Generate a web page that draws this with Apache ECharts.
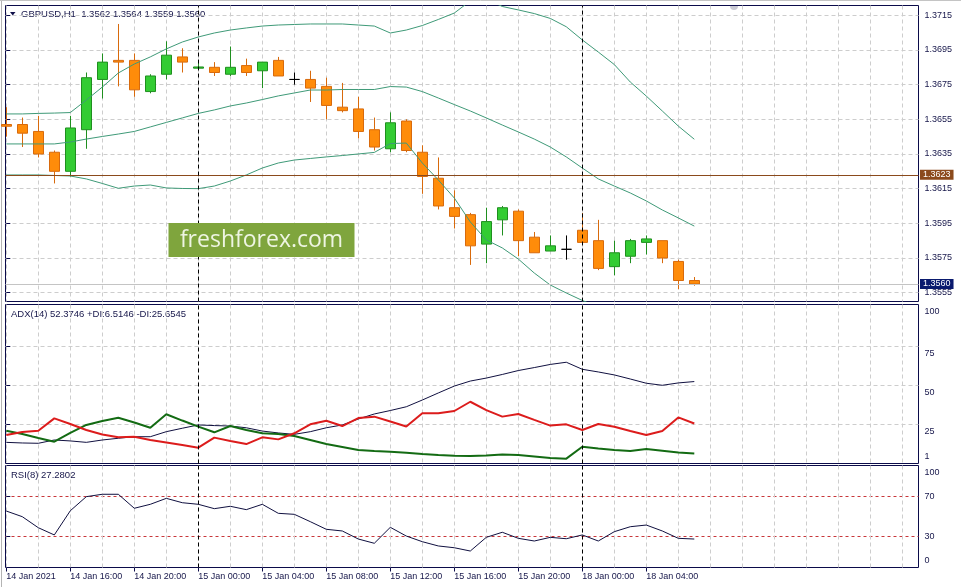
<!DOCTYPE html>
<html><head><meta charset="utf-8">
<script src="https://cdn.jsdelivr.net/npm/echarts@6/dist/echarts.min.js"></script>
<style>html,body{margin:0;padding:0;background:#fff}#c{width:961px;height:587px}</style>
</head><body><div id="c"></div>
<script>
// ---------------- data ----------------
const symbolName = 'GBPUSD', timeframe = 'H1';
const opens  = [1.3652,1.3652,1.3648,1.3636,1.3625,1.3649,1.3678,1.3689,1.3689,1.3671,1.3681,1.3691,1.36845,1.3685,1.3681,1.3686,1.3683,1.3689,1.3678,1.3678,1.3674,1.3662,1.3661,1.3649,1.3638,1.3654,1.3636,1.3621,1.3604,1.3600,1.3583,1.3597,1.3602,1.3587,1.3579,1.3580,1.3591,1.3585,1.3570,1.3576,1.3584,1.3585,1.3573,1.3562];
const highs  = [1.3662,1.3656,1.3657,1.3637,1.3657,1.3682,1.3693,1.3710,1.3693,1.3681,1.3700,1.3696,1.3688,1.3688,1.3697,1.3690,1.3688,1.3691,1.3682,1.3683,1.3679,1.3676,1.3668,1.3656,1.3659,1.3655,1.3640,1.3633,1.3614,1.3601,1.3604,1.3605,1.3603,1.3590,1.3588,1.3588,1.3601,1.3597,1.3585,1.3586,1.3588,1.3585,1.3574,1.3564];
const lows   = [1.3645,1.3639,1.3633,1.3618,1.3622,1.3638,1.3667,1.3674,1.3668,1.3670,1.3678,1.3682,1.36845,1.3680,1.3680,1.3680,1.3673,1.3680,1.3675,1.3665,1.3655,1.3659,1.3644,1.3637,1.3636,1.3636,1.3612,1.3603,1.3592,1.3571,1.3572,1.3588,1.3576,1.3578,1.3579,1.3574,1.3584,1.3568,1.3565,1.3572,1.3577,1.3572,1.3557,1.3559];
const closes = [1.3651,1.3647,1.3635,1.3625,1.3650,1.3679,1.3688,1.3688,1.3672,1.3680,1.3692,1.3688,1.36852,1.3682,1.3685,1.3682,1.3688,1.3680,1.3678,1.3673,1.3663,1.3660,1.3648,1.3639,1.3653,1.3637,1.3622,1.3605,1.3599,1.3582,1.3596,1.3604,1.3585,1.3578,1.3582,1.3580,1.3584,1.3569,1.3578,1.3585,1.3586,1.3575,1.3562,1.3560];

const bbUpper  = [1.36581,1.36581,1.36584,1.36586,1.36589,1.36661,1.36736,1.36817,1.36869,1.3691,1.36956,1.36996,1.37025,1.37048,1.37065,1.37077,1.37088,1.37094,1.37097,1.371,1.371,1.371,1.37094,1.37088,1.37048,1.37065,1.37091,1.37126,1.37163,1.37233,1.37244,1.37201,1.37181,1.3716,1.37132,1.37084,1.37008,1.36938,1.36866,1.36765,1.36684,1.36598,1.36511,1.36435];
const bbMiddle = [1.36408,1.36408,1.36408,1.36408,1.36419,1.36436,1.36451,1.36465,1.3648,1.36506,1.36532,1.36558,1.36584,1.36604,1.36627,1.36644,1.36664,1.36685,1.36702,1.36719,1.36719,1.36722,1.36722,1.36722,1.36739,1.36736,1.3671,1.36673,1.36635,1.36598,1.36558,1.36517,1.36477,1.36436,1.3639,1.36333,1.36269,1.36206,1.36165,1.36125,1.36079,1.36027,1.35981,1.35934];
const bbLower  = [1.36229,1.36229,1.36229,1.36226,1.36223,1.36206,1.3618,1.36152,1.36165,1.36171,1.36154,1.36151,1.3615,1.36165,1.36194,1.36229,1.36269,1.36298,1.36315,1.36324,1.36333,1.36341,1.3635,1.36359,1.3641,1.36413,1.36298,1.362,1.36096,1.35958,1.35854,1.35808,1.35744,1.35663,1.35594,1.35548,1.35505,1.35467,1.35456,1.35467,1.35461,1.3545,1.35444,1.35436];

const adxMain = [13.6,13.2,13.0,15.1,14.5,13.6,15.1,16.2,17.2,17.2,20.4,22.6,24.7,24.3,24.0,22.9,20.8,19.6,18.7,20.4,22.9,24.7,28.5,31.7,33.9,36.3,40.6,45.1,49.5,52.7,54.6,56.9,59.4,61.3,63.3,64.7,60.2,58.5,56.6,54.0,51.3,50.0,51.5,52.3746];
const plusDI  = [21.0,18.9,16.4,14.0,19.6,24.7,27.2,29.3,26.3,22.9,31.5,27.5,23.6,20.0,24.0,21.5,19.4,18.9,17.6,15.1,12.5,10.6,8.7,8.1,7.6,7.0,6.2,5.5,5.1,4.9,5.2,5.8,5.5,4.6,3.6,3.2,10.8,9.7,8.7,8.1,9.4,8.3,7.1,6.5146];
const minusDI = [18.3,20.2,21.0,28.9,25.3,21.5,18.6,16.8,17.2,15.1,13.5,11.9,10.2,16.6,14.5,12.5,16.8,15.5,19.4,25.1,27.4,24.0,29.1,30.0,26.9,23.7,32.1,32.1,33.6,39.5,34.2,30.0,31.7,27.9,24.3,25.1,21.5,25.3,23.6,20.8,18.3,20.8,29.5,25.6545];
const rsi = [55.5,49.8,38.7,31.4,55.8,70.0,72.4,72.4,58.3,62.3,68.3,63.9,62.3,57.9,60.3,56.9,62.3,53.2,52.2,44.8,37.1,35.4,27.3,23.0,39.1,30.3,24.6,20.3,18.5,15.2,29.0,34.1,28.0,25.3,29.0,27.6,31.4,25.3,34.7,39.7,41.4,35.4,28.0,27.2802];

const priceTicks = [1.3555,1.3575,1.3595,1.3615,1.3635,1.3655,1.3675,1.3695,1.3715];
const hLineLevel = 1.3623;
const xTickIdx = [0,4,8,12,16,20,24,28,32,36,40];
const xTickLabels = ['14 Jan 2021','14 Jan 16:00','14 Jan 20:00','15 Jan 00:00','15 Jan 04:00','15 Jan 08:00','15 Jan 12:00','15 Jan 16:00','15 Jan 20:00','18 Jan 00:00','18 Jan 04:00'];
const daySeparators = [12,36];
const adxTicks = [25,50,75];
const adxLabels = [1,25,50,75,100];
const rsiLevels = [30,70];
const rsiLabels = [0,30,70,100];

// ---------------- layout ----------------
const X_MIN = -0.05, X_MAX = 57.0125;
const vGrid = []; for (let i = 0; i <= X_MAX; i += 2) vGrid.push(i);
const FONT = 'Liberation Sans';
const NAVY = '#0b0b4a';
const TXT = '#16164a';
const GRIDC = '#cdcdcd';

const last = opens.length - 1;
const bid = closes[last];
const candleData = opens.map((o, i) => [i, o, closes[i], lows[i], highs[i]]);
const toXY = arr => arr.map((v, i) => [i, v]);

function sepItems() {
  return daySeparators.map(v => ({xAxis: v, lineStyle: {color: '#000', type: [4, 3], width: 1}, label: {show: false}}));
}
function sepLine() {
  return {silent: true, symbol: ['none', 'none'], animation: false, precision: 6, label: {show: false}, data: sepItems()};
}
function priceTag(v, bg) {
  return {show: true, position: 'end', distance: 1.5, formatter: v.toFixed(4),
    color: '#fff', backgroundColor: bg, padding: [1, 3, 0, 3], fontFamily: FONT, fontSize: 9};
}
function gridX(gi, extra) {
  return Object.assign({
    type: 'value', gridIndex: gi, min: X_MIN, max: X_MAX,
    axisLine: {show: false}, axisLabel: {show: false},
    axisTick: {show: false, customValues: vGrid},
    splitLine: {show: true, lineStyle: {color: GRIDC, type: [4, 3], width: 1}}
  }, extra || {});
}

const chart = echarts.init(document.getElementById('c'), null, {renderer: 'canvas'});
chart.setOption({
  animation: false,
  backgroundColor: '#ffffff',
  textStyle: {fontFamily: FONT},
  grid: [
    {left: 5.5, width: 913, top: 5.5, height: 296, show: true, borderColor: NAVY, borderWidth: 1},
    {left: 5.5, width: 913, top: 304.5, height: 159, show: true, borderColor: NAVY, borderWidth: 1},
    {left: 5.5, width: 913, top: 465.5, height: 102, show: true, borderColor: NAVY, borderWidth: 1}
  ],
  xAxis: [
    gridX(0),
    gridX(1),
    gridX(2, {position: 'top'}),
    {
      type: 'value', gridIndex: 2, min: X_MIN, max: X_MAX, position: 'bottom',
      axisLine: {show: false},
      axisTick: {show: true, customValues: xTickIdx, length: 4, lineStyle: {color: NAVY}},
      axisLabel: {
        show: true, customValues: xTickIdx, align: 'left', margin: 5,
        fontFamily: FONT, fontSize: 9, color: TXT,
        formatter: v => xTickLabels[xTickIdx.indexOf(Math.round(v))] || ''
      },
      splitLine: {show: false}
    }
  ],
  yAxis: [
    {
      type: 'value', gridIndex: 0, position: 'right', min: 1.354989, max: 1.372066,
      axisLine: {show: false},
      axisTick: {show: true, customValues: priceTicks, length: 4, lineStyle: {color: NAVY}},
      axisLabel: {show: true, customValues: priceTicks, margin: 6, fontFamily: FONT, fontSize: 9, color: TXT,
        formatter: v => v.toFixed(4)},
      splitLine: {show: true, lineStyle: {color: GRIDC, type: [4, 3], width: 1}}
    },
    {
      type: 'value', gridIndex: 1, position: 'right', min: 0.107, max: 101.53,
      axisLine: {show: false},
      axisTick: {show: true, customValues: adxTicks, length: 4, lineStyle: {color: NAVY}},
      axisLabel: {show: true, customValues: adxLabels, margin: 6, fontFamily: FONT, fontSize: 9, color: TXT,
        formatter: v => v === adxLabels[0] ? '{b|' + v + '}' : (v === 100 ? '{m|' + v + '}' : '{t|' + v + '}'),
        rich: {
          t: {padding: [14, 0, 0, 0], fontFamily: FONT, fontSize: 9, color: TXT},
          m: {padding: [10, 0, 0, 0], fontFamily: FONT, fontSize: 9, color: TXT},
          b: {padding: [0, 0, 11, 0], fontFamily: FONT, fontSize: 9, color: TXT}
        }},
      splitLine: {show: true, lineStyle: {color: GRIDC, type: [4, 3], width: 1}}
    },
    {
      type: 'value', gridIndex: 2, position: 'right', min: -1.41, max: 101.41,
      axisLine: {show: false},
      axisTick: {show: true, customValues: rsiLevels, length: 4, lineStyle: {color: NAVY}},
      axisLabel: {show: true, customValues: rsiLabels, margin: 6, fontFamily: FONT, fontSize: 9, color: TXT,
        formatter: v => v === 0 ? '{b|0}' : (v === 100 ? '{m|100}' : String(v)),
        rich: {
          m: {padding: [11, 0, 0, 0], fontFamily: FONT, fontSize: 9, color: TXT},
          b: {padding: [0, 0, 11, 0], fontFamily: FONT, fontSize: 9, color: TXT}
        }},
      splitLine: {show: true, lineStyle: {color: '#c8373b', type: [3, 3], width: 1}}
    }
  ],
  series: [
    {
      type: 'candlestick', xAxisIndex: 0, yAxisIndex: 0, barWidth: 10,
      data: candleData,
      itemStyle: {
        color: '#33cc33', borderColor: '#1f8f1f',
        color0: '#ff8c0a', borderColor0: '#d86a0c',
        borderColorDoji: '#000000', borderWidth: 1
      }
    },
    {type: 'line', xAxisIndex: 0, yAxisIndex: 0, data: toXY(bbUpper), showSymbol: false, symbol: 'none',
      lineStyle: {color: '#3f9a78', width: 1}},
    {type: 'line', xAxisIndex: 0, yAxisIndex: 0, data: toXY(bbMiddle), showSymbol: false, symbol: 'none',
      lineStyle: {color: '#3f9a78', width: 1},
      markLine: {
        silent: true, symbol: ['none', 'none'], animation: false, precision: 6,
        data: [
          {yAxis: hLineLevel, lineStyle: {color: '#8b4a1c', type: 'solid', width: 1}, label: priceTag(hLineLevel, '#8b4a1c')},
          {yAxis: bid, lineStyle: {color: '#c4c4c4', type: 'solid', width: 1}, label: priceTag(bid, '#0a1a6e')},
          ...sepItems()
        ]
      }},
    {type: 'line', xAxisIndex: 0, yAxisIndex: 0, data: toXY(bbLower), showSymbol: false, symbol: 'none',
      lineStyle: {color: '#3f9a78', width: 1}},
    {type: 'line', xAxisIndex: 1, yAxisIndex: 1, data: toXY(adxMain), symbol: 'none',
      lineStyle: {color: '#101040', width: 1}, markLine: sepLine()},
    {type: 'line', xAxisIndex: 1, yAxisIndex: 1, data: toXY(plusDI), symbol: 'none',
      lineStyle: {color: '#136b13', width: 2}},
    {type: 'line', xAxisIndex: 1, yAxisIndex: 1, data: toXY(minusDI), symbol: 'none',
      lineStyle: {color: '#dc1c1c', width: 2}},
    {type: 'line', xAxisIndex: 2, yAxisIndex: 2, data: toXY(rsi), symbol: 'none',
      lineStyle: {color: '#101040', width: 1}, markLine: sepLine()}
  ],
  graphic: [
    {type: 'line', shape: {x1: 1.5, y1: 0, x2: 1.5, y2: 587}, style: {stroke: '#b4b4b4', lineWidth: 1}, silent: true},
    {type: 'line', shape: {x1: 0, y1: 0.5, x2: 961, y2: 0.5}, style: {stroke: '#c4c4c4', lineWidth: 1}, silent: true},
    {type: 'sector', shape: {cx: 734, cy: 6, r: 4, startAngle: 0, endAngle: Math.PI, clockwise: true},
      style: {fill: '#c9c9d4'}, silent: true},
    {type: 'polygon', shape: {points: [[10, 12], [15.5, 12], [12.75, 15.5]]}, style: {fill: '#10104a'}, silent: true},
    {type: 'text', x: 21, y: 14, silent: true,
      style: {text: symbolName + ',' + timeframe + '  ' + [opens[last], highs[last], lows[last], closes[last]].map(v => v.toFixed(4)).join(' '),
        fill: TXT, font: '9.5px "' + FONT + '"', verticalAlign: 'middle'}},
    {type: 'text', x: 11, y: 314, silent: true,
      style: {text: 'ADX(14) ' + adxMain[last].toFixed(4) + ' +DI:' + plusDI[last].toFixed(4) + ' -DI:' + minusDI[last].toFixed(4),
        fill: TXT, font: '9.5px "' + FONT + '"', verticalAlign: 'middle'}},
    {type: 'text', x: 11, y: 475, silent: true,
      style: {text: 'RSI(8) ' + rsi[last].toFixed(4), fill: TXT, font: '9.5px "' + FONT + '"', verticalAlign: 'middle'}},
    {type: 'rect', shape: {x: 168.5, y: 223, width: 186, height: 34}, style: {fill: '#7fa53d'}, silent: true, z: 10},
    {type: 'text', x: 261.5, y: 240.5, silent: true, z: 11,
      style: {text: 'freshforex.com', fill: '#eef5e2', font: '23px "Open Sans"', align: 'center', verticalAlign: 'middle'}}
  ]
});
</script>
</body></html>
